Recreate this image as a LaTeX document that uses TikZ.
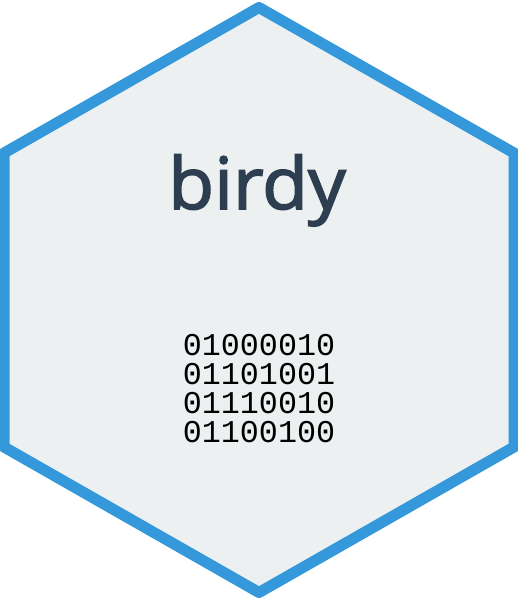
\documentclass[tikz,border=0pt]{standalone}
\usepackage{fontspec}
\setmainfont{Open Sans}
\newfontfamily\titlefont[FakeBold=2.2,FakeStretch=1.04]{Open Sans}
\newfontfamily\binfont{Liberation Mono}
\definecolor{hexfill}{HTML}{ECF0F1}
\definecolor{hexline}{HTML}{3498DB}
\definecolor{titlecol}{HTML}{2C3E50}
\tikzset{
  hexshape/.style={draw=hexline,fill=hexfill,line width=11pt,line join=round},
  titletext/.style={text=titlecol,inner sep=0pt,anchor=base,font=\titlefont\fontsize{72}{72}\selectfont},
  bintext/.style={text=black,inner sep=0pt,anchor=base,font=\binfont\fontsize{31.7}{31.7}\selectfont}
}
\begin{document}
\begin{tikzpicture}[x=1pt,y=-1pt]
\useasboundingbox (0,0) rectangle (518,600);
\draw[hexshape] (259,7.5) -- (514,153) -- (514,447) -- (259,592.5) -- (4,447) -- (4,153) -- cycle;
\node[titletext] (title) at (257,209) {birdy};
\node[bintext] (l1) at (259,355) {01000010};
\node[bintext] (l2) at (259,384) {01101001};
\node[bintext] (l3) at (259,413) {01110010};
\node[bintext] (l4) at (259,442) {01100100};
\end{tikzpicture}
\end{document}
